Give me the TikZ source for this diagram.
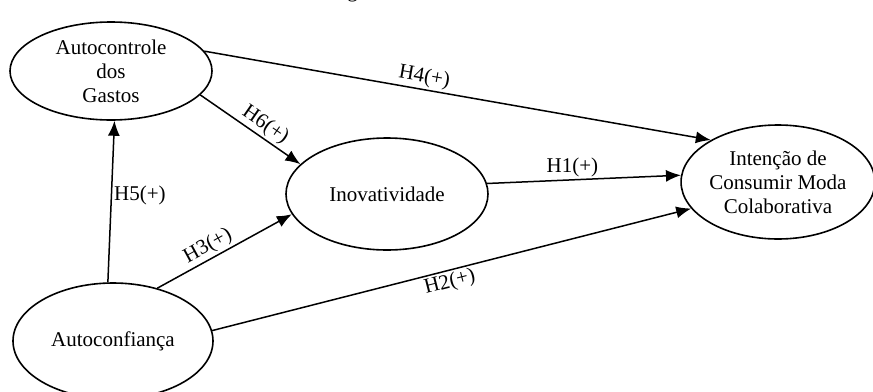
\documentclass[tikz,border=0pt]{standalone}
\usepackage{fontspec}
\setmainfont{Liberation Serif}
\usetikzlibrary{shapes.geometric,arrows.meta}
\begin{document}
\begin{tikzpicture}[x=1pt,y=-1pt,
  every node/.style={font=\fontsize{21}{24}\selectfont},
  construct/.style={draw,ellipse,line width=1.6pt,align=center,inner sep=0pt},
  path/.style={line width=1.5pt,-{Latex[length=15pt,width=12pt]}},
  lbl/.style={inner sep=2pt}]
\useasboundingbox (0,0) rectangle (873,391);
\node[anchor=base] (title) at (436,-3) {Figura 1: Modelo teórico};
\node[construct,minimum width=202pt,minimum height=98pt] (ac) at (111,71) {Autocontrole\\dos\\Gastos};
\node[construct,minimum width=200pt,minimum height=116pt] (conf) at (113,341) {Autoconfiança};
\node[construct,minimum width=202pt,minimum height=112pt] (inov) at (387,194) {Inovatividade};
\node[construct,minimum width=190pt,minimum height=114pt] (int) at (778,182) {Intenção de\\Consumir Moda\\Colaborativa};
\draw[path] (ac.12) -- (int.148) node[lbl,pos=0.43,sloped,above] {H4(+)};
\draw[path] (ac.-15) -- (inov.161) node[lbl,pos=0.58,sloped,above] {H6(+)};
\draw[path] (inov.6) -- (int.176) node[lbl,pos=0.44,above] {H1(+)};
\draw[path] (conf.6) -- (int.197) node[lbl,pos=0.49,sloped,below] {H2(+)};
\draw[path] (conf.50) -- (inov.192) node[lbl,pos=0.42,sloped,above] {H3(+)};
\draw[path] (conf.95) -- (ac.-86) node[lbl,pos=0.54,right] {H5(+)};
\end{tikzpicture}
\end{document}
